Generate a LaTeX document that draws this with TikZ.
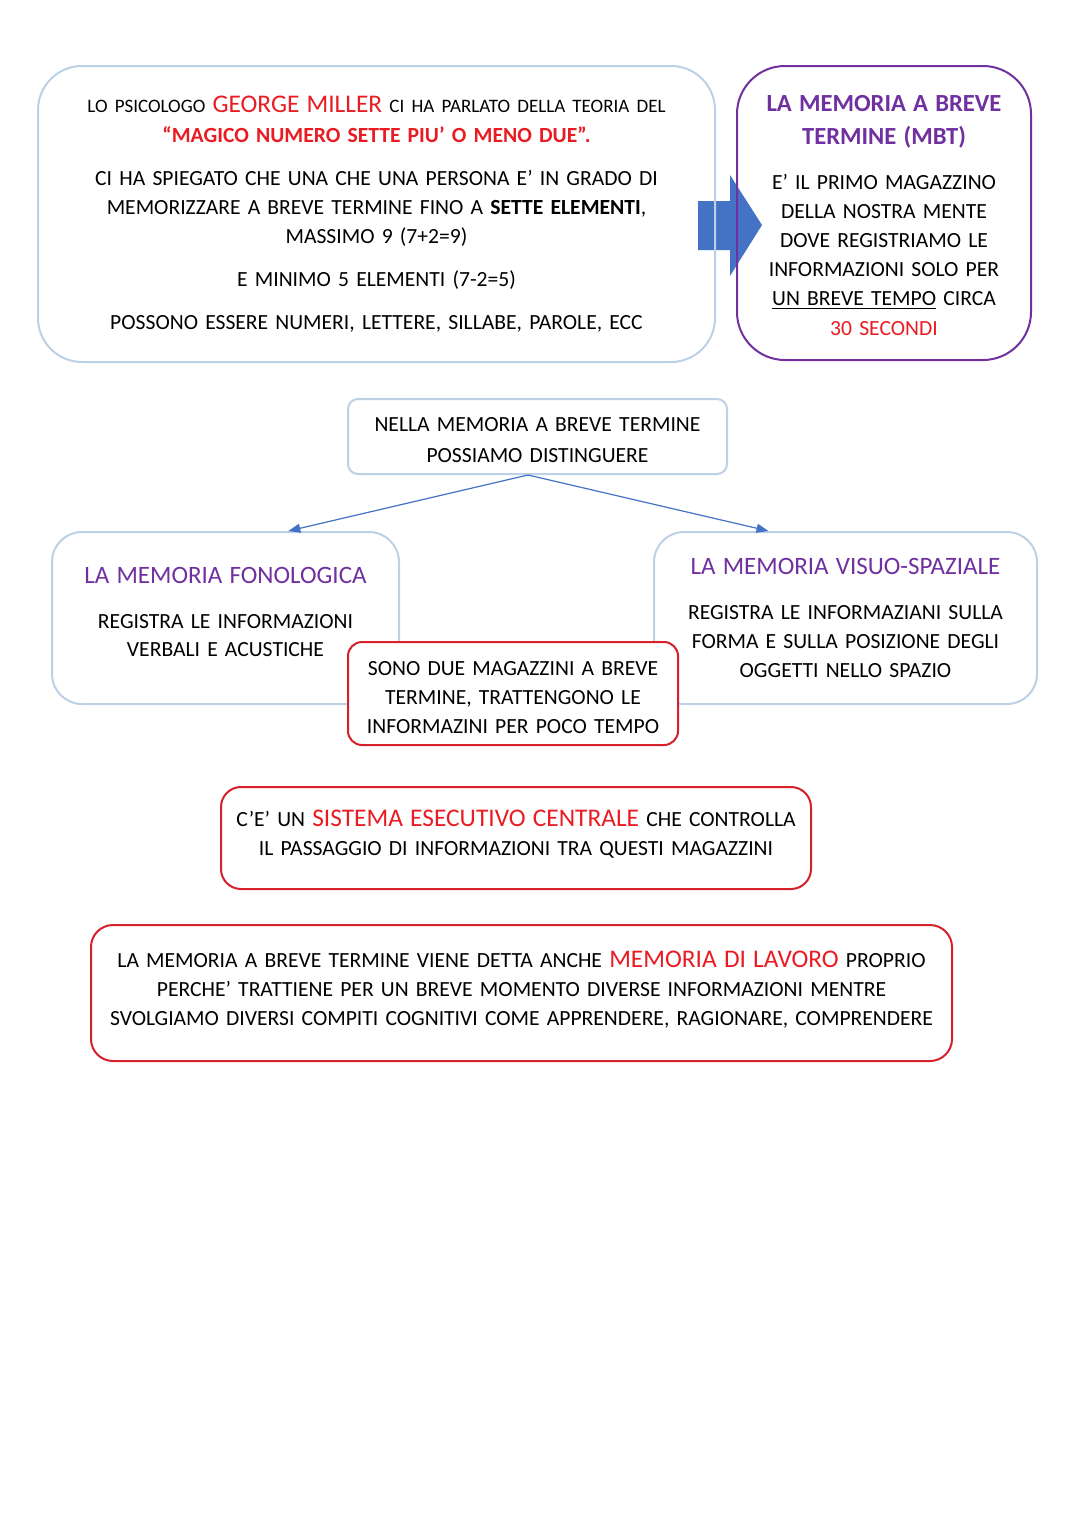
\documentclass[tikz,border=0pt]{standalone}
\usepackage{fontspec}
\setmainfont{Carlito}
\usetikzlibrary{positioning,arrows.meta,calc}

\definecolor{paleblue}{RGB}{188,208,230}
\definecolor{mbtpurple}{RGB}{112,48,160}
\definecolor{keyred}{RGB}{232,28,34}
\definecolor{boxred}{RGB}{214,32,42}
\definecolor{arrowblue}{RGB}{68,114,196}

\newcommand{\smallcaps}{\fontsize{9.5}{14.5}\selectfont}
\newcommand{\hilite}[1]{{\fontsize{12.7}{14.5}\selectfont\color{keyred}#1}}
\newcommand{\purpletitle}{\fontsize{12.5}{14.5}\selectfont\color{mbtpurple}}

\begin{document}
\begin{tikzpicture}[x=0.5pt,y=-0.5pt,
  body/.style={font=\fontsize{10.8}{14.5}\selectfont,align=center,inner sep=0pt,fill=white},
  bluebox/.style={body,draw=paleblue,line width=1pt},
  purplebox/.style={body,draw=mbtpurple,line width=1pt},
  redbox/.style={body,draw=boxred,line width=1pt},
  link/.style={draw=arrowblue,line width=0.6pt,-{Triangle[length=6pt,width=4.5pt]}}]
  \useasboundingbox[fill=white] (0,0) rectangle (1080,1527);

  % freccia blu tra i due riquadri in alto (sotto i bordi)
  \fill [arrowblue] (698,201) -- (730,201) -- (730,175) -- (762,225)
    -- (730,276) -- (730,250) -- (698,250) -- cycle;

  \node (intro) [bluebox,fill=none,text width=338.5pt,minimum height=148pt,rounded corners=22pt] at (376.5,214)
    {{\smallcaps LO PSICOLOGO} \hilite{GEORGE MILLER} {\smallcaps CI HA PARLATO DELLA TEORIA DEL}\\[0.5pt]
     {\bfseries\color{keyred}“MAGICO NUMERO SETTE PIU’ O MENO DUE”.}\\[7pt]
     CI HA SPIEGATO CHE UNA CHE UNA PERSONA E’ IN GRADO DI\\
     MEMORIZZARE A BREVE TERMINE FINO A \textbf{SETTE ELEMENTI},\\
     MASSIMO 9 (7+2=9)\\[7pt]
     E MINIMO 5 ELEMENTI (7-2=5)\\[7pt]
     POSSONO ESSERE NUMERI, LETTERE, SILLABE, PAROLE, ECC};
  \node (mbt) [purplebox,fill=none,text width=147pt,minimum height=147pt,rounded corners=24pt] at (884,213)
    {{\fontsize{12.3}{14.5}\selectfont\color{mbtpurple}\bfseries\rule{0pt}{10.5pt}LA MEMORIA A BREVE\\[2pt] TERMINE (MBT)}\\[8pt]
     E’ IL PRIMO MAGAZZINO\\ DELLA NOSTRA MENTE\\ DOVE REGISTRIAMO LE\\
     INFORMAZIONI SOLO PER\\ \underline{UN BREVE TEMPO} CIRCA\\[0.5pt]
     \textcolor{keyred}{30 SECONDI}};

  \node (nella) [bluebox,text width=189.5pt,minimum height=37.5pt,rounded corners=5pt] at (537.5,436.5)
    {\rule{0pt}{10.5pt}NELLA MEMORIA A BREVE TERMINE\\[1pt] POSSIAMO DISTINGUERE};
  \node (fono) [bluebox,text width=173.5pt,minimum height=86pt,rounded corners=15pt] at (225.5,618)
    {{\purpletitle LA MEMORIA FONOLOGICA}\\[8pt]
     REGISTRA LE INFORMAZIONI\\[-0.5pt] VERBALI E ACUSTICHE\rule[-6.5pt]{0pt}{0pt}};
  \node (visuo) [bluebox,text width=191.5pt,minimum height=86pt,rounded corners=15pt] at (845.5,618)
    {{\purpletitle LA MEMORIA VISUO-SPAZIALE}\\[8pt]
     REGISTRA LE INFORMAZIANI SULLA\\ FORMA E SULLA POSIZIONE DEGLI\\ OGGETTI NELLO SPAZIO};
  \node (magaz) [redbox,text width=165pt,minimum height=51.5pt,rounded corners=7pt] at (513,693.5)
    {\rule{0pt}{11.5pt}SONO DUE MAGAZZINI A BREVE\\ TERMINE, TRATTENGONO LE\\ INFORMAZINI PER POCO TEMPO};

  \draw [link] ($(nella.south west)!0.475!(nella.south east)$) -- ($(fono.north west)!0.68!(fono.north east)$);
  \draw [link] ($(nella.south west)!0.475!(nella.south east)$) -- ($(visuo.north west)!0.3!(visuo.north east)$);

  \node (sistema) [redbox,text width=295pt,minimum height=51pt,rounded corners=10pt] at (516,838)
    {C’E’ UN \hilite{SISTEMA ESECUTIVO CENTRALE} CHE CONTROLLA\\
     IL PASSAGGIO DI INFORMAZIONI TRA QUESTI MAGAZZINI\rule[-5pt]{0pt}{0pt}};
  \node (lavoro) [redbox,text width=430.5pt,minimum height=68pt,rounded corners=11pt] at (521.5,993)
    {LA MEMORIA A BREVE TERMINE VIENE DETTA ANCHE \hilite{MEMORIA DI LAVORO} PROPRIO\\
     PERCHE’ TRATTIENE PER UN BREVE MOMENTO DIVERSE INFORMAZIONI MENTRE\\
     SVOLGIAMO DIVERSI COMPITI COGNITIVI COME APPRENDERE, RAGIONARE, COMPRENDERE\rule[-5pt]{0pt}{0pt}};
\end{tikzpicture}
\end{document}
